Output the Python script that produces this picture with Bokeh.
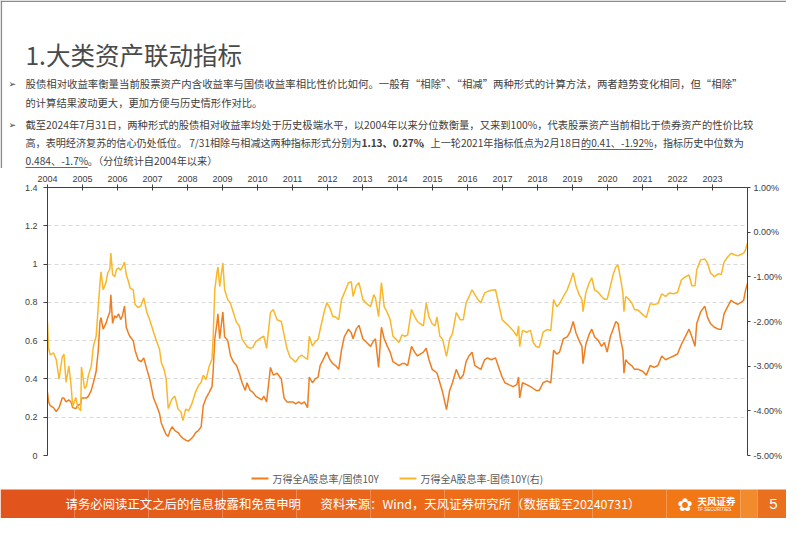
from bokeh.plotting import figure
from bokeh.models import Range1d, LinearAxis, FixedTicker, PrintfTickFormatter
from bokeh.layouts import column
from bokeh.embed import file_html
from bokeh.resources import INLINE
from bokeh.core.properties import value

# ---------------- data ----------------
years = [2004.00, 2004.03, 2004.08, 2004.17, 2004.25, 2004.33, 2004.42, 2004.47, 2004.53, 2004.61,
         2004.67, 2004.72, 2004.81, 2004.86, 2004.95, 2004.97, 2005.06, 2005.11, 2005.17, 2005.25,
         2005.31, 2005.39, 2005.45, 2005.50, 2005.53, 2005.59, 2005.67, 2005.72, 2005.78, 2005.81,
         2005.86, 2005.92, 2005.97, 2006.03, 2006.09, 2006.14, 2006.20, 2006.25, 2006.31, 2006.36,
         2006.45, 2006.50, 2006.59, 2006.67, 2006.75, 2006.84, 2006.92, 2007.03, 2007.12, 2007.20,
         2007.25, 2007.34, 2007.39, 2007.45, 2007.50, 2007.56, 2007.64, 2007.73, 2007.81, 2007.87,
         2007.95, 2008.03, 2008.12, 2008.17, 2008.23, 2008.31, 2008.39, 2008.45, 2008.53, 2008.62,
         2008.70, 2008.73, 2008.78, 2008.84, 2008.87, 2008.92, 2009.01, 2009.06, 2009.15, 2009.23,
         2009.31, 2009.40, 2009.48, 2009.56, 2009.65, 2009.70, 2009.79, 2009.87, 2009.95, 2010.04,
         2010.12, 2010.18, 2010.26, 2010.37, 2010.45, 2010.56, 2010.68, 2010.76, 2010.84, 2010.93,
         2011.01, 2011.09, 2011.18, 2011.26, 2011.34, 2011.43, 2011.48, 2011.57, 2011.65, 2011.73,
         2011.79, 2011.90, 2011.98, 2012.07, 2012.15, 2012.23, 2012.32, 2012.40, 2012.48, 2012.60,
         2012.68, 2012.73, 2012.82, 2012.90, 2013.01, 2013.12, 2013.23, 2013.32, 2013.37, 2013.46,
         2013.54, 2013.62, 2013.71, 2013.79, 2013.87, 2013.96, 2014.04, 2014.13, 2014.21, 2014.29,
         2014.40, 2014.49, 2014.57, 2014.65, 2014.74, 2014.82, 2014.90, 2014.99, 2015.07, 2015.13,
         2015.21, 2015.29, 2015.40, 2015.49, 2015.57, 2015.68, 2015.79, 2015.88, 2015.96, 2016.04,
         2016.13, 2016.21, 2016.29, 2016.38, 2016.49, 2016.57, 2016.68, 2016.80, 2016.91, 2016.99,
         2017.07, 2017.18, 2017.30, 2017.41, 2017.46, 2017.49, 2017.57, 2017.69, 2017.80, 2017.88,
         2017.96, 2018.05, 2018.16, 2018.27, 2018.38, 2018.46, 2018.55, 2018.63, 2018.74, 2018.85,
         2018.94, 2019.02, 2019.10, 2019.19, 2019.27, 2019.30, 2019.38, 2019.47, 2019.55, 2019.63,
         2019.74, 2019.83, 2019.91, 2019.99, 2020.08, 2020.16, 2020.24, 2020.30, 2020.38, 2020.44,
         2020.47, 2020.52, 2020.61, 2020.69, 2020.77, 2020.88, 2021.00, 2021.11, 2021.22, 2021.33,
         2021.44, 2021.55, 2021.66, 2021.77, 2021.89, 2022.00, 2022.11, 2022.22, 2022.33, 2022.41,
         2022.50, 2022.55, 2022.66, 2022.78, 2022.86, 2022.94, 2023.05, 2023.17, 2023.25, 2023.33,
         2023.44, 2023.53, 2023.61, 2023.72, 2023.81, 2023.89, 2023.94, 2024.00]

# 万得全A股息率 / 国债10Y (left axis)
ratio = [0.33, 0.28, 0.26, 0.25, 0.23, 0.25, 0.30, 0.30, 0.28, 0.29,
         0.28, 0.25, 0.245, 0.26, 0.27, 0.30, 0.30, 0.30, 0.31, 0.34,
         0.38, 0.44, 0.55, 0.70, 0.72, 0.66, 0.69, 0.72, 0.75, 0.84,
         0.69, 0.73, 0.72, 0.74, 0.71, 0.73, 0.78, 0.67, 0.64, 0.62,
         0.60, 0.55, 0.50, 0.49, 0.51, 0.45, 0.40, 0.30, 0.26, 0.22,
         0.17, 0.13, 0.11, 0.10, 0.13, 0.15, 0.13, 0.12, 0.10, 0.09,
         0.08, 0.075, 0.09, 0.10, 0.12, 0.13, 0.15, 0.26, 0.30, 0.33,
         0.36, 0.43, 0.61, 0.69, 0.74, 0.61, 0.75, 0.62, 0.60, 0.52,
         0.49, 0.47, 0.43, 0.38, 0.34, 0.38, 0.34, 0.33, 0.31, 0.30,
         0.29, 0.31, 0.28, 0.46, 0.42, 0.43, 0.40, 0.30, 0.28, 0.28,
         0.28, 0.27, 0.28, 0.27, 0.28, 0.25, 0.41, 0.38, 0.40, 0.41,
         0.47, 0.51, 0.54, 0.50, 0.48, 0.47, 0.45, 0.55, 0.62, 0.66,
         0.64, 0.61, 0.66, 0.68, 0.61, 0.59, 0.57, 0.60, 0.61, 0.46,
         0.67, 0.61, 0.57, 0.54, 0.49, 0.48, 0.47, 0.48, 0.48, 0.47,
         0.57, 0.54, 0.52, 0.53, 0.54, 0.56, 0.50, 0.45, 0.44, 0.43,
         0.38, 0.33, 0.24, 0.34, 0.38, 0.45, 0.40, 0.42, 0.49, 0.52,
         0.54, 0.47, 0.46, 0.45, 0.50, 0.51, 0.50, 0.51, 0.45, 0.41,
         0.38, 0.37, 0.36, 0.37, 0.41, 0.30, 0.38, 0.37, 0.36, 0.35,
         0.34, 0.34, 0.38, 0.39, 0.38, 0.55, 0.53, 0.54, 0.61, 0.62,
         0.65, 0.70, 0.64, 0.60, 0.57, 0.48, 0.58, 0.63, 0.66, 0.62,
         0.60, 0.57, 0.59, 0.54, 0.62, 0.66, 0.70, 0.69, 0.60, 0.55,
         0.43, 0.50, 0.48, 0.47, 0.45, 0.45, 0.44, 0.42, 0.47, 0.46,
         0.47, 0.52, 0.50, 0.51, 0.52, 0.53, 0.58, 0.62, 0.66, 0.62,
         0.57, 0.69, 0.75, 0.78, 0.72, 0.69, 0.67, 0.66, 0.66, 0.74,
         0.78, 0.81, 0.80, 0.79, 0.80, 0.81, 0.86, 0.90]

# 万得全A股息率 - 国债10Y, % (right axis)
spread = [-2.02, -2.60, -2.75, -2.70, -2.85, -3.29, -2.80, -2.73, -3.36, -3.00,
          -3.40, -3.90, -3.70, -3.90, -4.00, -3.02, -3.50, -3.45, -3.20, -3.00,
          -2.56, -2.33, -1.67, -1.13, -0.89, -1.29, -1.13, -0.91, -0.84, -0.47,
          -0.95, -1.00, -0.84, -0.80, -0.85, -0.78, -0.67, -0.95, -1.10, -1.25,
          -1.29, -1.62, -1.69, -1.65, -1.47, -1.80, -1.96, -2.24, -2.45, -2.62,
          -2.91, -3.10, -3.29, -3.95, -3.85, -3.73, -3.67, -3.96, -4.02, -4.22,
          -3.96, -4.00, -3.85, -3.73, -3.58, -3.44, -3.36, -3.20, -3.30, -3.00,
          -2.84, -2.40, -1.29, -0.91, -0.78, -1.22, -0.69, -1.29, -1.51, -1.60,
          -1.80, -2.02, -2.10, -2.40, -2.50, -2.56, -2.60, -2.58, -2.45, -2.40,
          -2.35, -2.33, -2.60, -1.80, -1.73, -1.96, -2.00, -2.30, -2.60, -2.80,
          -2.85, -2.91, -2.80, -2.75, -2.80, -2.85, -2.33, -2.55, -2.45, -2.40,
          -2.18, -1.80, -1.58, -1.70, -1.89, -1.90, -1.96, -1.51, -1.36, -1.13,
          -1.11, -1.44, -1.20, -1.13, -1.51, -1.60, -1.67, -1.40, -1.47, -1.89,
          -1.13, -1.67, -1.80, -1.96, -2.33, -2.40, -2.47, -2.30, -2.33, -2.30,
          -1.73, -1.89, -2.00, -2.05, -2.10, -1.58, -1.90, -2.05, -2.10, -1.90,
          -2.33, -2.40, -2.78, -2.40, -2.27, -1.80, -1.96, -1.96, -1.58, -1.45,
          -1.29, -1.40, -1.50, -1.58, -1.36, -1.33, -1.30, -1.29, -1.67, -1.96,
          -2.02, -2.10, -2.20, -2.33, -2.10, -2.56, -2.20, -2.24, -2.20, -2.47,
          -2.56, -2.58, -2.24, -2.18, -2.20, -1.51, -1.67, -1.60, -1.44, -1.29,
          -1.10, -0.91, -1.20, -1.40, -1.51, -1.78, -1.36, -1.15, -1.02, -1.29,
          -1.35, -1.44, -1.50, -1.50, -1.22, -0.95, -0.78, -0.73, -1.07, -1.36,
          -1.78, -1.44, -1.50, -1.58, -1.73, -1.75, -1.84, -1.91, -1.60, -1.62,
          -1.60, -1.38, -1.44, -1.36, -1.38, -1.35, -1.07, -1.00, -0.96, -1.20,
          -1.20, -0.84, -0.62, -0.60, -0.70, -0.91, -1.00, -0.93, -0.95, -0.67,
          -0.55, -0.47, -0.50, -0.53, -0.50, -0.47, -0.40, -0.24]

year_ticks = [2004, 2005, 2006, 2007, 2008, 2009, 2010, 2011, 2012, 2013,
              2014, 2015, 2016, 2017, 2018, 2019, 2020, 2021, 2022, 2023]
left_ticks = [0, 0.2, 0.4, 0.6, 0.8, 1, 1.2, 1.4]
left_labels = ["0", "0.2", "0.4", "0.6", "0.8", "1", "1.2", "1.4"]
right_ticks = [-5, -4, -3, -2, -1, 0, 1]

series_names = ["万得全A股息率/国债10Y", "万得全A股息率-国债10Y(右)"]
title_text = "1.大类资产联动指标"
bullet1 = ["股债相对收益率衡量当前股票资产内含收益率与国债收益率相比性价比如何。一般有“相除”、“相减”两种形式的计算方法，两者趋势变化相同，但“相除”",
           "的计算结果波动更大，更加方便与历史情形作对比。"]
bullet2_l1 = "截至2024年7月31日，两种形式的股债相对收益率均处于历史极端水平，以2004年以来分位数衡量，又来到100%，代表股票资产当前相比于债券资产的性价比较"
bullet2_l2 = ["高，表明经济复苏的信心仍处低位。 7/31相除与相减这两种指标形式分别为", "1.13、0.27%",
              "，上一轮2021年指标低点为2月18日", "的0.41、-1.92%", "，指标历史中位数为"]
bullet2_l3 = ["0.484、-1.7%", "。（分位统计自2004年以来）"]
footer_left = "请务必阅读正文之后的信息披露和免责申明"
footer_src = "资料来源：Wind，天风证券研究所（数据截至20240731）"

# ---------------- style ----------------
ORANGE = "#EE7E20"
YELLOW = "#F9B82B"
TEXT = "#404040"
CJK = value("Noto Sans CJK SC")
W = 786

def blank(height):
    f = figure(width=W, height=height, x_range=Range1d(0, W), y_range=Range1d(height, 0),
               x_axis_type=None, y_axis_type=None, output_backend="svg", toolbar_location=None,
               min_border=0, outline_line_color=None, frame_align=False)
    f.grid.visible = False
    return f

# ---------------- header ----------------
H1 = 168
h = blank(H1)
h.segment(x0=[0], y0=[0.8], x1=[W], y1=[0.8], line_color="#8C8C8C", line_width=1.6)
h.segment(x0=[0.8], y0=[0], x1=[0.8], y1=[H1], line_color="#8C8C8C", line_width=1.6)
h.text(x=[25], y=[54], text=[title_text], text_font=CJK, text_font_size="24.5px",
       text_baseline="middle", text_color="#4A4A4A")
for yy in (83, 124):
    h.text(x=[8], y=[yy], text=["➢"], text_font=value("DejaVu Sans"), text_font_size="9px",
           text_baseline="middle", text_color=TEXT)

def line(x, y, s, size, bold=False):
    h.text(x=[x], y=[y], text=[s], text_font=CJK, text_font_size=f"{size}px",
           text_baseline="middle", text_color=TEXT,
           text_font_style="bold" if bold else "normal")

line(25, 83, bullet1[0], 10.4)
line(25, 102, bullet1[1], 10.3)
line(25, 124, bullet2_l1, 10.3)
# line with bold / underlined runs
em = 10.1
seg_w = [33.26 * em, 5.85 * em, 15.9 * em, 7.11 * em]
xs = [25]
for w_ in seg_w:
    xs.append(xs[-1] + w_)
for i, s in enumerate(bullet2_l2):
    line(xs[i], 142, s, em, bold=(i == 1))
h.segment(x0=[xs[3]], y0=[149], x1=[xs[4]], y1=[149], line_color=TEXT, line_width=0.8)
u_w = 6.11 * 10.2
line(25, 160, bullet2_l3[0], 10.2)
line(25 + u_w, 160, bullet2_l3[1], 10.2)
h.segment(x0=[25], y0=[167], x1=[25 + u_w], y1=[167], line_color=TEXT, line_width=0.8)

# ---------------- chart ----------------
H2 = 297
p = figure(width=W, height=H2, x_range=Range1d(2004, 2024), y_range=Range1d(0, 1.4),
           x_axis_location="above", output_backend="svg", toolbar_location=None,
           min_border_left=47, min_border_right=39, min_border_top=19, min_border_bottom=10,
           outline_line_color=None, frame_align=False)
p.xgrid.visible = False
p.ygrid.ticker = FixedTicker(ticks=left_ticks)
p.ygrid.grid_line_color = "#D9D9D9"
p.ygrid.grid_line_dash = "4 3"

xa = p.xaxis[0]
xa.ticker = FixedTicker(ticks=year_ticks)
xa.major_label_overrides = {y: str(y) for y in year_ticks}
xa.major_tick_in = 3
xa.major_tick_out = 3
xa.minor_tick_line_color = None
xa.major_label_standoff = 3

ya = p.yaxis[0]
ya.ticker = FixedTicker(ticks=left_ticks)
ya.major_label_overrides = dict(zip(left_ticks, left_labels))
ya.major_tick_in = 0
ya.major_tick_out = 4
ya.minor_tick_line_color = None
ya.major_label_standoff = 6

p.extra_y_ranges = {"right": Range1d(-5, 1)}
ra = LinearAxis(y_range_name="right", ticker=FixedTicker(ticks=right_ticks),
                formatter=PrintfTickFormatter(format="%.2f%%"))
ra.major_tick_in = 0
ra.major_tick_out = 3
ra.minor_tick_line_color = None
ra.major_label_standoff = 3
p.add_layout(ra, "right")

for ax in (xa, ya, ra):
    ax.axis_line_color = "#404040"
    ax.major_tick_line_color = "#404040"
    ax.major_label_text_font = "Liberation Sans"
    ax.major_label_text_font_size = "9px"
    ax.major_label_text_color = TEXT

p.line(years, ratio, line_color=ORANGE, line_width=1.5)
p.line(years, spread, y_range_name="right", line_color=YELLOW, line_width=1.5)

# ---------------- legend + footer ----------------
H3 = 518 - H1 - H2
f = blank(H3)
f.segment(x0=[251, 399], y0=[13, 13], x1=[268, 416], y1=[13, 13],
          line_color=[ORANGE, YELLOW], line_width=2)
f.text(x=[272, 420], y=[13, 13], text=series_names, text_font=CJK, text_font_size="10px",
       text_baseline="middle", text_color="#595959")

band_cols = ["#E1551D", "#E3591C", "#E55D1B", "#E7611A", "#E9651A", "#EB6919", "#ED6D18",
             "#EF7117", "#F07516", "#F17815"]
n = len(band_cols)
lefts = [i * 740 / n for i in range(n)]
rights = [(i + 1) * 740 / n for i in range(n)]
f.quad(left=lefts, right=rights, top=[24] * n, bottom=[H3] * n, fill_color=band_cols,
       line_color=None)
f.quad(left=[740, 757], right=[757, W], top=[24, 24], bottom=[H3, H3],
       fill_color=["#F28A2E", "#E8701E"], line_color=None)
f.text(x=[65, 320], y=[38.5, 38.5], text=[footer_left, footer_src], text_font=CJK,
       text_font_size="12.4px", text_baseline="middle", text_color="white")
f.text(x=[677], y=[38.5], text=["✿"], text_font=value("DejaVu Sans"), text_font_size="18px",
       text_baseline="middle", text_color="white")
f.text(x=[697], y=[35.5], text=["天风证券"], text_font=CJK, text_font_size="9.5px",
       text_font_style="bold", text_baseline="middle", text_color="white")
f.text(x=[697], y=[44], text=["TF SECURITIES"], text_font=value("Liberation Sans"),
       text_font_size="4.5px", text_baseline="middle", text_color="white")
f.text(x=[773], y=[38.5], text=["5"], text_font=value("Liberation Sans"), text_font_size="15px",
       text_align="center", text_baseline="middle", text_color="white")

layout = column(h, p, f, spacing=0)
open("out.html", "w").write(file_html(layout, INLINE))
